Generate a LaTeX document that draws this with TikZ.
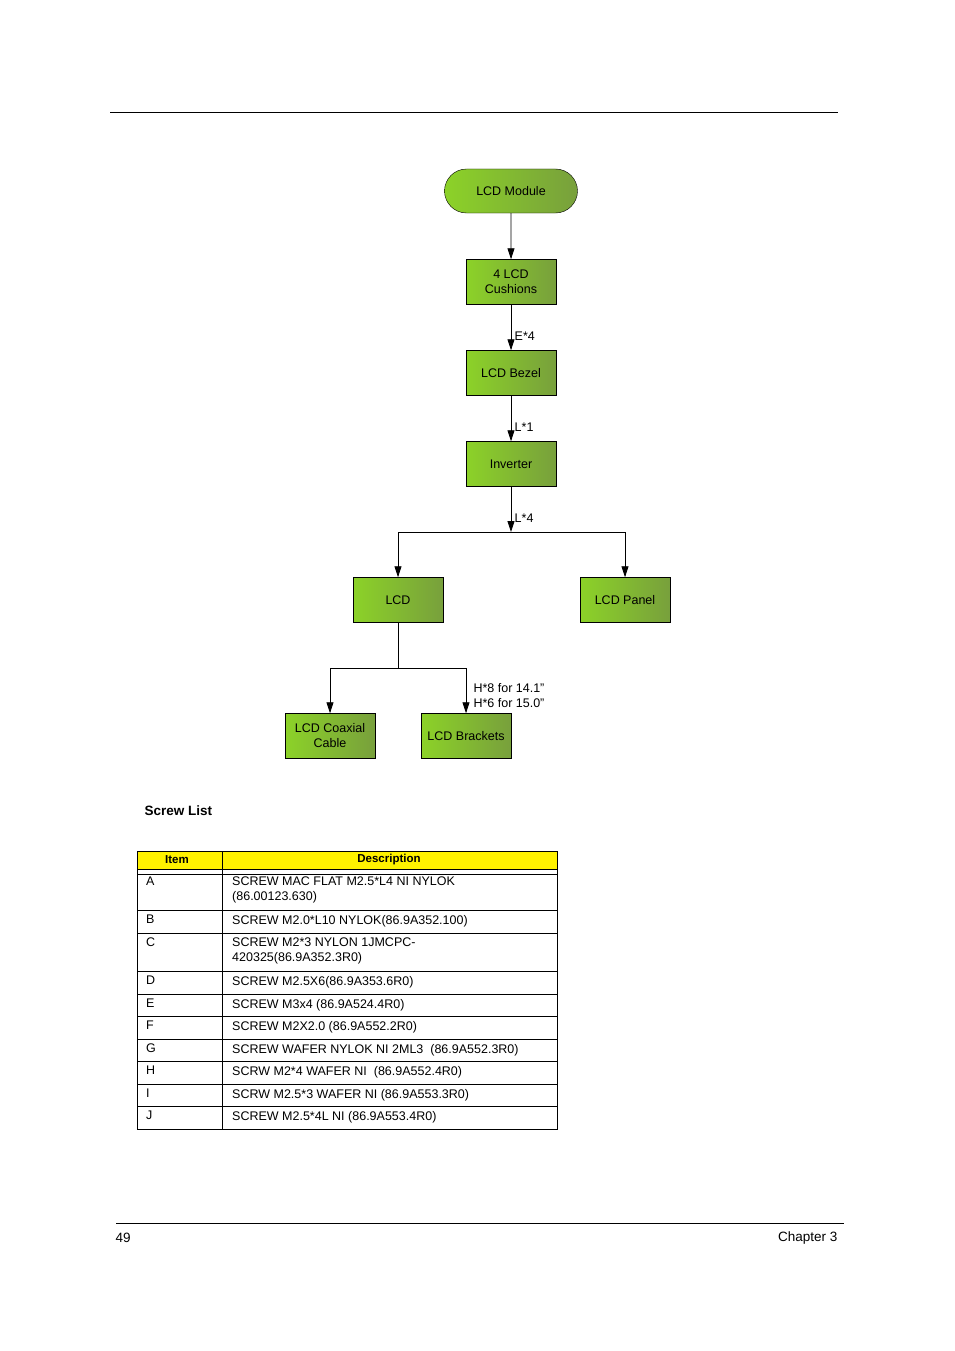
\documentclass[tikz,border=0pt]{standalone}
\usepackage{fontspec}
\setmainfont{Liberation Sans}
\usetikzlibrary{arrows.meta,shapes.misc}
\begin{document}
\begin{tikzpicture}[x=1pt,y=-1pt,
 box/.style={draw,rectangle,left color=green!60!lime!90!black!95,right color=olive!75!green,shading angle=135,minimum width=90pt,minimum height=45pt,inner sep=1pt,align=center,font=\fontsize{12.5}{15}\selectfont},
 arr/.style={-{Triangle[width=7pt,length=11pt]},line width=0.8pt},
 lab/.style={font=\fontsize{12.5}{15}\selectfont,anchor=west},
 tx/.style={font=\fontsize{12.5}{15}\selectfont,anchor=west,align=left}]
\definecolor{gA}{RGB}{140,210,40}\definecolor{gB}{RGB}{120,160,60}
\tikzset{box/.append style={left color=gA,right color=gB}}
\useasboundingbox (0,0) rectangle (954,1351);
\draw[line width=0.8pt] (110,112) -- (838,112);
\draw[line width=0.8pt] (116,1223) -- (844,1223);
\node[anchor=west,font=\fontsize{13.5}{16}\selectfont] at (112,1238) {49};
\node[anchor=east,font=\fontsize{13.5}{16}\selectfont] at (841,1238) {Chapter 3};
\node[box,rounded rectangle,minimum width=135pt,minimum height=44pt] (m) at (511,191) {LCD Module};
\node[box] (c) at (511,282) {4 LCD\\Cushions};
\node[box] (b) at (511,373) {LCD Bezel};
\node[box] (i) at (511,464) {Inverter};
\node[box] (l) at (398,600) {LCD};
\node[box] (p) at (625,600) {LCD Panel};
\node[box] (x) at (330,736) {LCD Coaxial\\Cable};
\node[box] (k) at (466,736) {LCD Brackets};
\draw[arr] (m) -- (c);
\draw[arr] (c) -- (b) node[lab,pos=0.7] {E*4};
\draw[arr] (b) -- (i) node[lab,pos=0.7] {L*1};
\draw[arr] (i) -- (511,532) node[lab,pos=0.7] {L*4};
\coordinate (j) at (511,532);
\draw[arr] (j) -| (l);
\draw[arr] (j) -| (p);
\coordinate (j2) at (398,668);
\draw[line width=0.8pt] (l) -- (j2);
\draw[arr] (j2) -| (x);
\draw[arr] (j2) -| (k);
\node[lab,align=left] at (470,696) {H*8 for 14.1"\\H*6 for 15.0"};
\node[anchor=west,font=\bfseries\fontsize{13.5}{16}\selectfont] at (141,811) {Screw List};
\fill[yellow] (137,851) rectangle (557,869);
\draw[line width=0.8pt] (137,851) rectangle (557,1129);
\draw[line width=0.8pt] (222,851) -- (222,1129);
\draw (137,869) -- (557,869); \draw (137,874) -- (557,874);
\foreach \y in {910,933,971,994,1016,1039,1061,1084,1106} \draw (137,\y) -- (557,\y);
\node[font=\bfseries\fontsize{11.5}{14}\selectfont] at (177,860) {Item};
\node[font=\bfseries\fontsize{11.5}{14}\selectfont] at (389,860) {Description};
\foreach \y/\a/\d in {883/A/{SCREW MAC FLAT M2.5*L4 NI NYLOK\\(86.00123.630)},921/B/{SCREW M2.0*L10 NYLOK(86.9A352.100)},944/C/{SCREW M2*3 NYLON 1JMCPC-\\420325(86.9A352.3R0)},982/D/{SCREW M2.5X6(86.9A353.6R0)},1005/E/{SCREW M3x4 (86.9A524.4R0)},1027/F/{SCREW M2X2.0 (86.9A552.2R0)},1050/G/{SCREW WAFER NYLOK NI 2ML3 \ (86.9A552.3R0)},1072/H/{SCRW M2*4 WAFER NI \ (86.9A552.4R0)},1095/I/{SCRW M2.5*3 WAFER NI (86.9A553.3R0)},1117/J/{SCREW M2.5*4L NI (86.9A553.4R0)}}
{\node[tx,anchor=north west,inner sep=0pt] at (146,\y-6) {\a};
 \node[tx,anchor=north west,inner sep=0pt] at (232,\y-6) {\d};}
\end{tikzpicture}
\end{document}
